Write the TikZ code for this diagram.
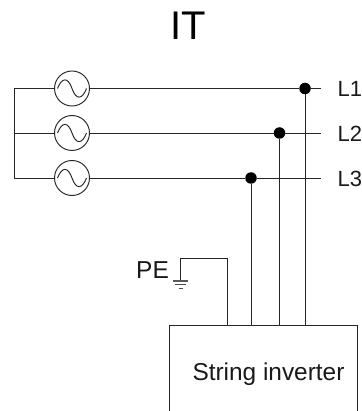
\documentclass[tikz,border=0pt]{standalone}
\usepackage{fontspec}
\setmainfont{Liberation Sans}
\usetikzlibrary{calc}
\tikzset{
  wire/.style={draw=black!85,line width=0.95pt},
  source/.style={circle,draw=black!85,line width=0.95pt,minimum size=35pt,inner sep=0pt,fill=white},
  junction/.style={circle,fill=black,minimum size=11.5pt,inner sep=0pt},
  lab/.style={font=\fontsize{22}{22}\selectfont,inner sep=0pt,anchor=base west,text=black!90}
}
\begin{document}
\begin{tikzpicture}[x=1pt,y=-1pt]
\useasboundingbox (0,0) rectangle (361,411);
\node[font=\fontsize{40}{40}\selectfont,inner sep=0pt,anchor=base] (title) at (188,40) {IT};
% sources
\node[source] (s1) at (72,88.5) {};
\node[source] (s2) at (72,133) {};
\node[source] (s3) at (72,178) {};
\foreach \n in {1,2,3}{
  \draw[wire] ($(s\n)+(-14.5,0)$) .. controls ($(s\n)+(-10,-11.5)$) and ($(s\n)+(-4,-11.5)$) .. ($(s\n)$)
     .. controls ($(s\n)+(4,11.5)$) and ($(s\n)+(10,11.5)$) .. ($(s\n)+(14.5,0)$);
}
% junctions and ends
\node[junction] (j1) at (305,88.5) {};
\node[junction] (j2) at (279.5,133) {};
\node[junction] (j3) at (251,178) {};
\coordinate (e1) at (321,88.5);
\coordinate (e2) at (321,133);
\coordinate (e3) at (321,178);
\coordinate (n1) at (14,88.5);
\coordinate (n2) at (14,133);
\coordinate (n3) at (14,178);
\node[lab] (l1) at (337.5,97) {L1};
\node[lab] (l2) at (337.5,141.5) {L2};
\node[lab] (l3) at (337.5,186.5) {L3};
% bus
\draw[wire] (n1) -- (s1) (n2) -- (s2) (n3) -- (s3);
\draw[wire] (n1) -- (n3);
\draw[wire] (s1) -- (j1) -- (e1);
\draw[wire] (s2) -- (j2) -- (e2);
\draw[wire] (s3) -- (j3) -- (e3);
% inverter
\draw[wire] (169,411) -- (169,325) -- (357,325) -- (357,411);
\coordinate (t0) at (227,325);
\coordinate (t3) at (251,325);
\coordinate (t2) at (279.5,325);
\coordinate (t1) at (305,325);
\draw[wire] (j1) -- (t1);
\draw[wire] (j2) -- (t2);
\draw[wire] (j3) -- (t3);
\node[inner sep=0pt,anchor=base,font=\fontsize{24.4}{24.4}\selectfont,text=black!90] (inv) at (268.5,380) {String inverter};
% PE
\coordinate (g) at (180.5,281);
\draw[wire] (t0) |- (g |- 0,258) -- (g);
\draw[wire,black!65,line width=1.2pt] (172.7,281) -- (188,281);
\draw[wire,black!70,line width=.8pt] (175,284.5) -- (186,284.5);
\draw[wire,black!70,line width=.8pt] (179,288) -- (183,288);
\node[lab,font=\fontsize{24.5}{24.5}\selectfont] (pe) at (136,278) {PE};
\end{tikzpicture}
\end{document}
